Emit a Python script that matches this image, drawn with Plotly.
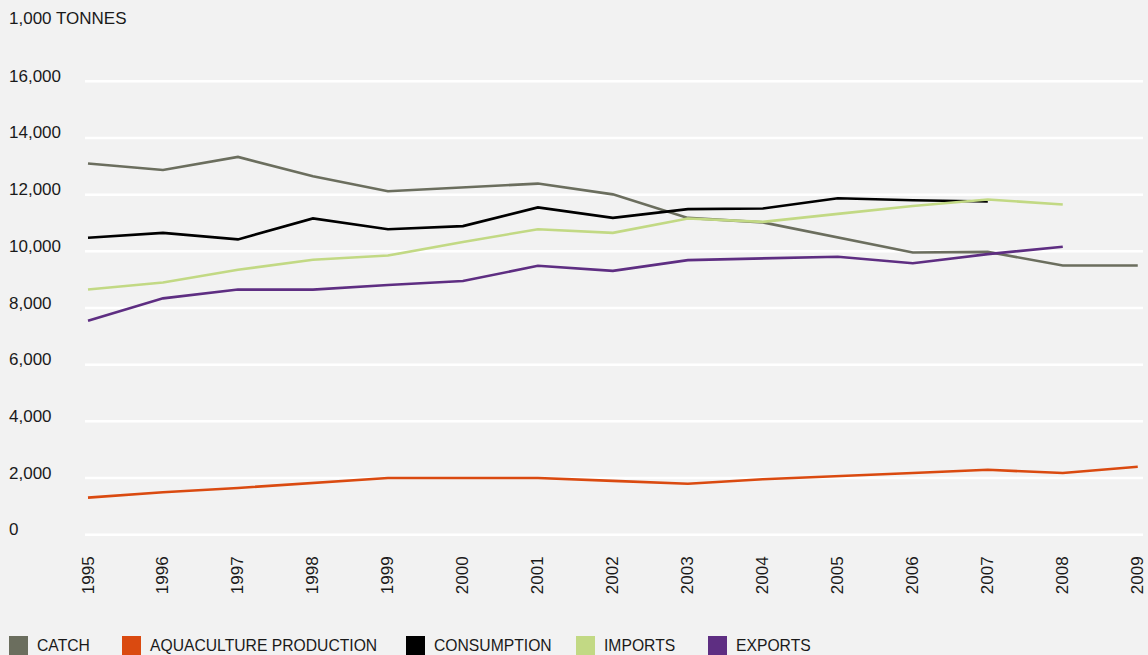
import plotly.graph_objects as go

# values in 1,000 tonnes
years = [1995, 1996, 1997, 1998, 1999, 2000, 2001, 2002, 2003, 2004, 2005, 2006, 2007, 2008, 2009]
catch = [13100, 12870, 13330, 12650, 12120, 12260, 12390, 12010, 11180, 11020, 10500, 9960, 9980, 9500, 9500]
aquaculture = [1310, 1500, 1650, 1830, 2000, 2000, 2000, 1900, 1800, 1960, 2080, 2180, 2290, 2180, 2400]
consumption = [10480, 10650, 10420, 11160, 10780, 10890, 11550, 11180, 11490, 11510, 11870, 11800, 11760]
imports = [8650, 8900, 9350, 9700, 9850, 10330, 10780, 10650, 11160, 11040, 11320, 11600, 11830, 11650]
exports = [7550, 8340, 8650, 8650, 8810, 8950, 9490, 9310, 9690, 9740, 9810, 9580, 9900, 10160]

series_names = ["CATCH", "AQUACULTURE PRODUCTION", "CONSUMPTION", "IMPORTS", "EXPORTS"]
series_values = [catch, aquaculture, consumption, imports, exports]
colors = ["#6b6e5e", "#da4a10", "#000000", "#c2d984", "#5e2e82"]

y_ticks = [0, 2000, 4000, 6000, 8000, 10000, 12000, 14000, 16000]

FONT = "Liberation Sans, Arial, Helvetica, sans-serif"
TEXT = "#1a1a1a"

fig = go.Figure()

for name, vals, col in zip(series_names, series_values, colors):
    fig.add_trace(go.Scatter(
        x=years[:len(vals)],
        y=vals,
        mode="lines",
        name=name,
        line=dict(color=col, width=2.6),
        showlegend=False,
        cliponaxis=False,
    ))

annotations = []
shapes = []
# white gridlines plus left aligned labels sitting just above them
for v in y_ticks:
    shapes.append(dict(
        type="line", xref="paper", x0=0, x1=1, yref="y", y0=v, y1=v,
        line=dict(color="#ffffff", width=2.5), layer="below",
    ))
    annotations.append(dict(
        xref="paper", x=0, xanchor="left", xshift=-78,
        yref="y", y=v, yanchor="middle", yshift=5,
        text=f"{v:,}", showarrow=False,
        font=dict(family=FONT, size=17, color=TEXT),
    ))

annotations.append(dict(
    xref="paper", x=0, xanchor="left", xshift=-78,
    yref="paper", y=1, yanchor="middle", yshift=62,
    text="1,000 TONNES", showarrow=False,
    font=dict(family=FONT, size=17, color=TEXT),
))

# hand made legend with square swatches along the bottom
swatch_left = [9, 122, 406, 576, 708]
for name, col, left in zip(series_names, colors, swatch_left):
    shapes.append(dict(
        type="rect", xref="paper", yref="paper",
        xsizemode="pixel", ysizemode="pixel", xanchor=0, yanchor=0,
        x0=left - 85, x1=left - 85 + 19, y0=-100, y1=-121,
        fillcolor=col, line=dict(width=0),
    ))
    annotations.append(dict(
        xref="paper", x=0, xanchor="left", xshift=left - 85 + 26,
        yref="paper", y=0, yanchor="middle", yshift=-109,
        text=name, showarrow=False,
        font=dict(family=FONT, size=15.7, color=TEXT),
    ))

fig.update_layout(
    width=1148,
    height=655,
    paper_bgcolor="#f2f2f2",
    plot_bgcolor="#f2f2f2",
    margin=dict(l=85, r=5, t=80, b=119),
    showlegend=False,
    annotations=annotations,
    shapes=shapes,
    font=dict(family=FONT, size=17, color=TEXT),
)

fig.update_xaxes(
    range=[1994.96, 2009.07],
    tickvals=years,
    ticktext=[str(y) for y in years],
    tickangle=-90,
    showgrid=False,
    zeroline=False,
    ticks="",
    ticklabelstandoff=16,
    ticklabeloverflow="allow",
    automargin=False,
    tickfont=dict(family=FONT, size=17, color=TEXT),
)

fig.update_yaxes(
    range=[-45, 16045],
    showticklabels=False,
    showgrid=False,
    zeroline=False,
    automargin=False,
)

# drop the page's default body margin so the chart fills the window
fig.write_html(
    "out.html",
    config={"displayModeBar": False},
    post_script="document.body.style.margin='0';document.body.style.background='#f2f2f2';",
)
